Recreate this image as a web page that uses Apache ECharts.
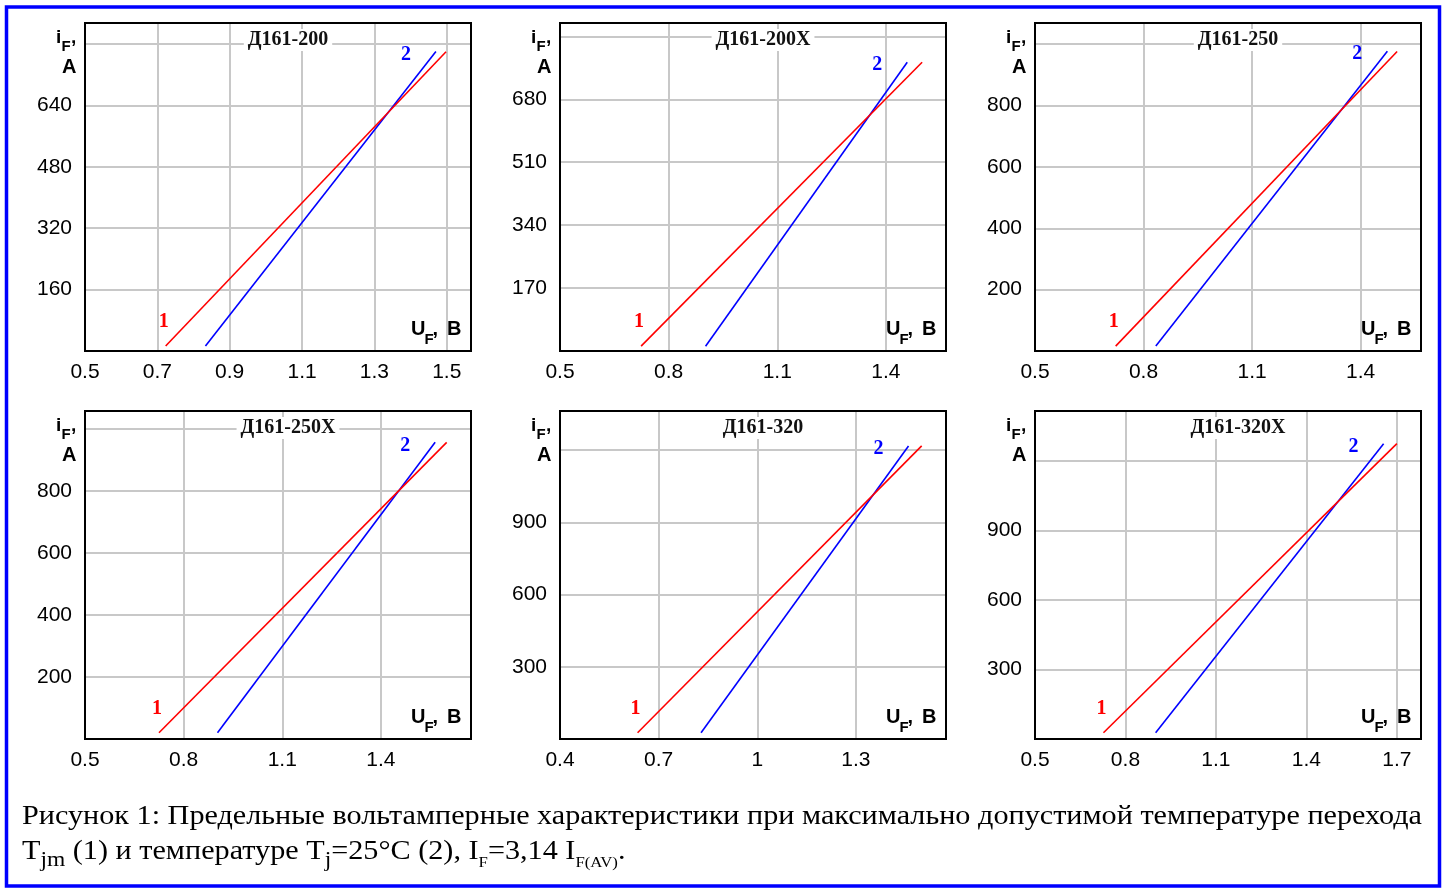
<!DOCTYPE html>
<html><head><meta charset="utf-8">
<script src="https://cdn.jsdelivr.net/npm/echarts@6/dist/echarts.min.js"></script>
<style>html,body{margin:0;padding:0;background:#fff}#c{width:1449px;height:890px}</style>
</head><body><div id="c"></div>
<script>
// ---- data ----
const panelTitles = ['Д161-200', 'Д161-200X', 'Д161-250', 'Д161-250X', 'Д161-320', 'Д161-320X'];
const xMin = [0.5, 0.5, 0.5, 0.5, 0.4, 0.5];
const xMax = [1.567, 1.566, 1.567, 1.674, 1.574, 1.78];
const xStep = [0.2, 0.3, 0.3, 0.3, 0.3, 0.3];
const yMax = [855, 886, 1069, 1057, 1362, 1417];
const yStep = [160, 170, 200, 200, 300, 300];
const xTickLabels = [
  ['0.5', '0.7', '0.9', '1.1', '1.3', '1.5'],
  ['0.5', '0.8', '1.1', '1.4'],
  ['0.5', '0.8', '1.1', '1.4'],
  ['0.5', '0.8', '1.1', '1.4'],
  ['0.4', '0.7', '1', '1.3'],
  ['0.5', '0.8', '1.1', '1.4', '1.7']
];
const yTickLabels = [
  ['160', '320', '480', '640'],
  ['170', '340', '510', '680'],
  ['200', '400', '600', '800'],
  ['200', '400', '600', '800'],
  ['300', '600', '900'],
  ['300', '600', '900']
];
// curve 1: Tjm (red), curve 2: Tj = 25°C (blue)   [U_F, i_F]
const curve1 = [
  [[0.723, 13], [1.498, 780]],
  [[0.724, 13], [1.500, 780]],
  [[0.723, 16], [1.501, 976]],
  [[0.725, 20], [1.600, 956]],
  [[0.636, 26], [1.500, 1217]],
  [[0.727, 27], [1.700, 1276]]
];
const curve2 = [
  [[0.833, 13], [1.470, 781]],
  [[0.902, 13], [1.459, 780]],
  [[0.834, 16], [1.474, 977]],
  [[0.903, 20], [1.565, 956]],
  [[0.829, 26], [1.460, 1217]],
  [[0.900, 27], [1.656, 1276]]
];
const curveNames = ['1', '2'];
const captionLine1 = 'Рисунок 1: Предельные вольтамперные характеристики при максимально допустимой температуре перехода';
const captionLine2 = [
  { t: 'T', sub: 0 }, { t: 'jm', sub: 1 }, { t: ' (1) и температуре T', sub: 0 }, { t: 'j', sub: 1 },
  { t: '=25°C (2), I', sub: 0 }, { t: 'F', sub: 2 }, { t: '=3,14 I', sub: 0 }, { t: 'F(AV)', sub: 2 }, { t: '.', sub: 0 }
];

// ---- layout ----
const lefts = [85, 560, 1035];
const tops = [23, 411];
const W = 386, H = 328;
const RED = '#ff0000', BLUE = '#0000ff';
const SANS = '"Liberation Sans", Arial, sans-serif';
const SERIF = '"Liberation Serif", "Times New Roman", serif';

function fmt(labels) {
  return function (v) {
    const s = labels.find(l => Math.abs(parseFloat(l) - v) < 1e-6);
    return s || '';
  };
}

const grids = [], xAxes = [], yAxes = [], series = [], graphics = [];
for (let i = 0; i < 6; i++) {
  const L = lefts[i % 3], T = tops[Math.floor(i / 3)];
  const R = L + W, B = T + H;
  grids.push({ left: L, top: T, width: W, height: H, show: false, outerBoundsMode: 'none', containLabel: false });
  xAxes.push({
    type: 'value', gridIndex: i, min: xMin[i], max: xMax[i], interval: xStep[i],
    axisLine: { show: false }, axisTick: { show: false },
    splitLine: { show: true, lineStyle: { color: '#c8c8c8', width: 2 } },
    axisLabel: { formatter: fmt(xTickLabels[i]), fontSize: 21, fontFamily: SANS, color: '#000', margin: 11, hideOverlap: false }
  });
  yAxes.push({
    type: 'value', gridIndex: i, min: 0, max: yMax[i], interval: yStep[i],
    axisLine: { show: false }, axisTick: { show: false },
    splitLine: { show: true, lineStyle: { color: '#c8c8c8', width: 2 } },
    axisLabel: { formatter: fmt(yTickLabels[i]), fontSize: 21, fontFamily: SANS, color: '#000', margin: 13, hideOverlap: false }
  });
  const lab = (txt, col, off) => ({
    show: true, formatter: txt, position: 'inside', offset: off,
    fontFamily: SERIF, fontWeight: 'bold', fontSize: 20, color: col
  });
  series.push({
    type: 'line', xAxisIndex: i, yAxisIndex: i, silent: true, z: 4,
    showSymbol: true, symbol: 'circle', symbolSize: 0,
    lineStyle: { color: BLUE, width: 1.6 }, itemStyle: { color: BLUE },
    data: curve2[i].map((p, k) => k === curve2[i].length - 1 ? { value: p, label: lab(curveNames[1], BLUE, [-30, 3]) } : { value: p })
  });
  series.push({
    type: 'line', xAxisIndex: i, yAxisIndex: i, silent: true, z: 5,
    showSymbol: true, symbol: 'circle', symbolSize: 0,
    lineStyle: { color: RED, width: 1.6 }, itemStyle: { color: RED },
    data: curve1[i].map((p, k) => k === 0 ? { value: p, label: lab(curveNames[0], RED, [-2, -24]) } : { value: p })
  });
  // frame
  graphics.push({ type: 'rect', z: 50, silent: true, shape: { x: L, y: T, width: W, height: H },
    style: { fill: 'none', stroke: '#000', lineWidth: 2 } });
  // title
  graphics.push({ type: 'text', z: 60, silent: true, x: L + W / 2 + 10, y: T + 17,
    style: { text: panelTitles[i], font: 'bold 20px ' + SERIF, fill: '#111', align: 'center', verticalAlign: 'middle',
      backgroundColor: '#fff', padding: [1, 4] } });
  const t = (txt, x, y, size, align) => graphics.push({ type: 'text', z: 60, silent: true, x: x, y: y,
    style: { text: txt, font: 'bold ' + size + 'px ' + SANS, fill: '#000', align: align || 'left', verticalAlign: 'middle' } });
  // y axis name  i_F, A
  t('i', L - 29, T + 15, 19);
  t('F', L - 23.5, T + 23.5, 15);
  t(',', L - 14, T + 15, 19);
  t('A', L - 8.5, T + 44.5, 20, 'right');
  // x axis name  U_F, B
  t('U', R - 60, B - 22, 20);
  t('F', R - 46.5, B - 11.5, 15);
  t(',', R - 38.5, B - 22, 20);
  t('B', R - 9.5, B - 22, 20, 'right');
}

// outer blue frame
graphics.push({ type: 'rect', z: 70, silent: true, shape: { x: 6.5, y: 7, width: 1433, height: 879 },
  style: { fill: 'none', stroke: '#0000ff', lineWidth: 3.5 } });

// caption
const ctx = document.createElement('canvas').getContext('2d');
const capSize = 27;
ctx.font = capSize + 'px ' + SERIF;
const w1 = ctx.measureText(captionLine1).width;
const sx = 1400 / w1;
graphics.push({ type: 'text', z: 60, silent: true, x: 22, y: 826 - 0.34 * capSize, scaleX: sx,
  style: { text: captionLine1, font: capSize + 'px ' + SERIF, fill: '#000', align: 'left', verticalAlign: 'middle' } });
const subSize = [capSize, 21, 15];
const subDrop = [0, 7, 7];
let cx = 22;
const base2 = 861;
captionLine2.forEach(seg => {
  const s = subSize[seg.sub];
  ctx.font = s + 'px ' + SERIF;
  const w = ctx.measureText(seg.t).width * sx;
  graphics.push({ type: 'text', z: 60, silent: true, x: cx, y: base2 + subDrop[seg.sub] - 0.34 * s, scaleX: sx,
    style: { text: seg.t, font: s + 'px ' + SERIF, fill: '#000', align: 'left', verticalAlign: 'middle' } });
  cx += w;
});

const chart = echarts.init(document.getElementById('c'), null, { renderer: 'canvas' });
chart.setOption({
  animation: false,
  backgroundColor: '#fff',
  grid: grids, xAxis: xAxes, yAxis: yAxes, series: series, graphic: graphics
});
</script></body></html>
